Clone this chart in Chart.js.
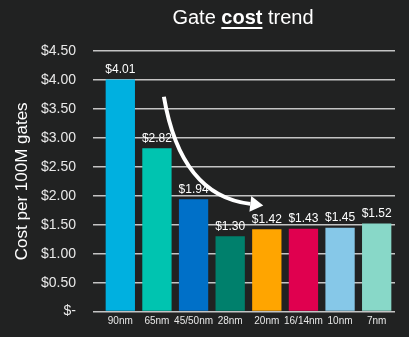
<!DOCTYPE html>
<html>
<head>
<meta charset="utf-8">
<script src="https://cdn.jsdelivr.net/npm/chart.js@4"></script>
<style>
  html, body { margin: 0; padding: 0; background: #212222; }
  #wrap { position: relative; width: 409px; height: 337px; }
  #title {
    position: absolute; top: 6px; left: 143px; width: 200px;
    text-align: center; color: #fff;
    font: 20px "Liberation Sans", Arial, sans-serif;
  }
  #title b { text-decoration: underline; text-decoration-thickness: 2px; text-underline-offset: 3px; }
</style>
</head>
<body>
<div id="wrap">
  <div id="title">Gate <b>cost</b> trend</div>
  <canvas id="gate-cost" width="409" height="337"></canvas>
</div>
<script>
const nodes = ['90nm', '65nm', '45/50nm', '28nm', '20nm', '16/14nm', '10nm', '7nm'];
const costs = [4.01, 2.82, 1.94, 1.30, 1.42, 1.43, 1.45, 1.52];
const barColors = ['#00b0e0', '#00c4b0', '#0070c8', '#00806c', '#ffa500', '#e0004f', '#86c8e8', '#88d8c8'];

const money = v => v === 0 ? '$-' : '$' + v.toFixed(2);

const labelsAndArrow = {
  id: 'labelsAndArrow',
  afterDatasetsDraw(chart) {
    const ctx = chart.ctx;
    const meta = chart.getDatasetMeta(0);
    ctx.save();
    ctx.fillStyle = '#fff';
    ctx.font = '12px "Liberation Sans", Arial, sans-serif';
    ctx.textAlign = 'center';
    ctx.textBaseline = 'bottom';
    meta.data.forEach((bar, i) => {
      ctx.fillText(money(costs[i]), bar.x, bar.y - 4);
    });

    // curved arrow showing the trend
    const xs = chart.scales.x, ys = chart.scales.y;
    const px = i => xs.getPixelForValue(0) + i * (xs.getPixelForValue(1) - xs.getPixelForValue(0));
    const x0 = px(1.19), y0 = ys.getPixelForValue(3.71);
    const cx = px(1.65), cy = ys.getPixelForValue(2.0);
    const x1 = px(3.55), y1 = ys.getPixelForValue(1.86);
    ctx.strokeStyle = '#fff';
    ctx.lineWidth = 4;
    ctx.beginPath();
    ctx.moveTo(x0, y0);
    ctx.quadraticCurveTo(cx, cy, x1, y1);
    ctx.stroke();
    const ang = Math.atan2(y1 - cy, x1 - cx);
    const tipX = x1 + Math.cos(ang) * 13, tipY = y1 + Math.sin(ang) * 13;
    ctx.beginPath();
    ctx.moveTo(tipX, tipY);
    ctx.lineTo(x1 + Math.cos(ang + Math.PI / 2) * 8, y1 + Math.sin(ang + Math.PI / 2) * 8);
    ctx.lineTo(x1 - Math.cos(ang + Math.PI / 2) * 8, y1 - Math.sin(ang + Math.PI / 2) * 8);
    ctx.closePath();
    ctx.fillStyle = '#fff';
    ctx.fill();
    ctx.restore();
  }
};

const costData = {
  labels: nodes,
  datasets: [{
    data: costs,
    backgroundColor: barColors,
    categoryPercentage: 1,
    barPercentage: 0.8
  }]
};

const costConfig = {
  type: 'bar',
  data: costData,
  options: {
    responsive: false,
    animation: false,
    layout: { padding: { left: 0, right: 14, top: 51, bottom: 0 } },
    plugins: {
      legend: { display: false },
      tooltip: { enabled: false }
    },
    scales: {
      x: {
        grid: { display: false, drawTicks: false },
        border: { display: false },
        ticks: {
          color: '#e8e8e8',
          autoSkip: false,
          maxRotation: 0,
          padding: 4,
          font: { family: '"Liberation Sans", Arial, sans-serif', size: 10 }
        },
        afterFit(scale) { scale.height = 25; }
      },
      y: {
        min: 0,
        max: 4.5,
        border: { display: false },
        grid: { color: '#c4c4c4', lineWidth: 1.5, tickLength: 9, tickColor: '#c4c4c4' },
        ticks: {
          stepSize: 0.5,
          color: '#e8e8e8',
          padding: 17,
          font: { family: '"Liberation Sans", Arial, sans-serif', size: 14 },
          callback: v => money(v)
        },
        title: {
          display: true,
          text: 'Cost per 100M gates',
          color: '#fff',
          padding: { top: 12, bottom: 0 },
          font: { family: '"Liberation Sans", Arial, sans-serif', size: 17 }
        },
        afterFit(scale) { scale.width = 102; }
      }
    }
  },
  plugins: [labelsAndArrow]
};

const costChart = new Chart(document.getElementById('gate-cost'), costConfig);
</script>
</body>
</html>
